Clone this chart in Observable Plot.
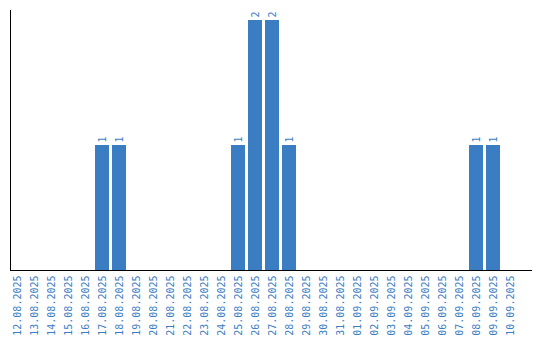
<!DOCTYPE html>
<html>
<head>
<meta charset="utf-8">
<script src="https://cdn.jsdelivr.net/npm/d3@7"></script>
<script src="https://cdn.jsdelivr.net/npm/@observablehq/plot@0.6"></script>
<style>
  html, body { margin: 0; padding: 0; background: #fff; }
</style>
</head>
<body>
<div id="chart"></div>
<script>
const dates = [
  "12.08.2025","13.08.2025","14.08.2025","15.08.2025","16.08.2025","17.08.2025",
  "18.08.2025","19.08.2025","20.08.2025","21.08.2025","22.08.2025","23.08.2025",
  "24.08.2025","25.08.2025","26.08.2025","27.08.2025","28.08.2025","29.08.2025",
  "30.08.2025","31.08.2025","01.09.2025","02.09.2025","03.09.2025","04.09.2025",
  "05.09.2025","06.09.2025","07.09.2025","08.09.2025","09.09.2025","10.09.2025"
];
const counts = [
  0,0,0,0,0,1,
  1,0,0,0,0,0,
  0,1,2,2,1,0,
  0,0,0,0,0,0,
  0,0,0,1,1,0
];

const data = dates.map((d, i) => ({date: d, count: counts[i]}));
const blue = "#3b7dc2";

const chart = Plot.plot({
  width: 540,
  height: 340,
  marginLeft: 10,
  marginRight: 9,
  marginTop: 10,
  marginBottom: 70,
  style: {fontFamily: "'DejaVu Sans Mono', monospace", fontSize: "10px", background: "#fff"},
  x: {domain: dates, range: [10, 518.4], paddingInner: 0.18, paddingOuter: 0, align: 0, label: null, axis: null},
  y: {domain: [0, 2.08], axis: null},
  marks: [
    Plot.barY(data, {x: "date", y: "count", fill: blue, shapeRendering: "crispEdges"}),
    Plot.text(data.filter(d => d.count > 0), {
      x: "date", y: "count", text: d => String(d.count),
      rotate: -90, textAnchor: "start", dy: -3, fill: blue
    }),
    Plot.axisX({tickSize: 0, tickPadding: 5, tickRotate: -90, fill: blue, label: null}),
    Plot.frame({anchor: "left", stroke: "#000"}),
    Plot.frame({anchor: "bottom", stroke: "#000"})
  ]
});
document.getElementById("chart").appendChild(chart);
</script>
</body>
</html>
